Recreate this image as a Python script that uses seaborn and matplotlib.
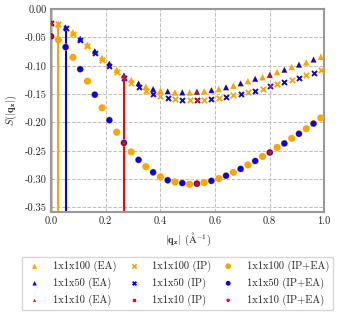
import numpy as np
import pandas as pd
import seaborn as sns
import matplotlib
matplotlib.use("Agg")
import matplotlib.pyplot as plt

# q grid: q_n = n * dq, dq = 2*pi/L for each supercell
n_100 = np.arange(38)
n_50 = np.arange(0, 38, 2)
n_10 = np.array([0, 10, 20, 30])
dq_100 = 0.0267

# 1x1x100 values, index n = 0..37
ea_100 = [-0.024, -0.026, -0.032, -0.041, -0.052, -0.063, -0.074, -0.086, -0.096, -0.107,
          -0.117, -0.125, -0.131, -0.137, -0.141, -0.144, -0.145, -0.147, -0.147, -0.147,
          -0.146, -0.145, -0.143, -0.141, -0.138, -0.135, -0.131, -0.127, -0.123, -0.120,
          -0.116, -0.111, -0.107, -0.102, -0.098, -0.094, -0.089, -0.084]
ip_100 = [-0.024, -0.027, -0.033, -0.043, -0.054, -0.065, -0.077, -0.089, -0.100, -0.111,
          -0.122, -0.130, -0.137, -0.144, -0.149, -0.153, -0.156, -0.159, -0.160, -0.161,
          -0.161, -0.160, -0.159, -0.157, -0.155, -0.152, -0.150, -0.147, -0.144, -0.141,
          -0.136, -0.132, -0.129, -0.125, -0.121, -0.117, -0.112, -0.108]
ipea_100 = [-0.048, -0.054, -0.067, -0.085, -0.106, -0.127, -0.151, -0.174, -0.196, -0.217,
            -0.236, -0.252, -0.266, -0.278, -0.288, -0.296, -0.302, -0.305, -0.307, -0.309,
            -0.308, -0.306, -0.303, -0.299, -0.294, -0.288, -0.282, -0.275, -0.268, -0.260,
            -0.253, -0.244, -0.237, -0.228, -0.220, -0.211, -0.202, -0.192]

# 1x1x50 values, n = 0, 2, ..., 36
ea_50 = [-0.024, -0.032, -0.052, -0.074, -0.096, -0.117, -0.131, -0.141, -0.145, -0.147,
         -0.146, -0.143, -0.138, -0.131, -0.123, -0.116, -0.107, -0.098, -0.089]
ip_50 = [-0.024, -0.033, -0.054, -0.077, -0.100, -0.122, -0.137, -0.149, -0.156, -0.160,
         -0.161, -0.159, -0.155, -0.150, -0.144, -0.136, -0.129, -0.121, -0.112]
ipea_50 = [-0.048, -0.067, -0.106, -0.151, -0.196, -0.236, -0.266, -0.288, -0.302, -0.307,
           -0.308, -0.303, -0.294, -0.282, -0.268, -0.253, -0.237, -0.220, -0.202]

# 1x1x10 values, n = 0, 10, 20, 30
ea_10 = [-0.024, -0.117, -0.146, -0.116]
ip_10 = [-0.024, -0.122, -0.161, -0.136]
ipea_10 = [-0.048, -0.236, -0.308, -0.253]

cells = ["1x1x100", "1x1x50", "1x1x10"]
colors = ["orange", "blue", "red"]
sizes = [22, 16, 8]

sns.set_style("white")
plt.rcParams.update({
    "font.family": "serif",
    "font.serif": ["cmr10"],
    "mathtext.fontset": "cm",
    "axes.formatter.use_mathtext": True,
    "font.size": 7.5,
})

fig = plt.figure(figsize=(3.38, 3.15), dpi=100)
ax = fig.add_axes([0.151, 0.327, 0.808, 0.644])

ymin = -0.358
data = [
    (n_100 * dq_100, ea_100, ip_100, ipea_100),
    (n_50 * dq_100, ea_50, ip_50, ipea_50),
    (n_10 * dq_100, ea_10, ip_10, ipea_10),
]

# smallest nonzero q of each cell
for (q, ea, ip, ipea), c in zip(data, colors):
    ax.vlines(q[1], ymin, ea[1], color=c, lw=1.5, zorder=2)

for (q, ea, ip, ipea), name, c, s in zip(data, cells, colors, sizes):
    sns.scatterplot(x=q, y=ea, marker="^", s=s, color=c, edgecolor="none",
                    label=f"{name} (EA)", ax=ax, zorder=3)
    sns.scatterplot(x=q, y=ip, marker="x", s=s * 0.7, color=c, linewidth=1.3,
                    label=f"{name} (IP)", ax=ax, zorder=3)
    sns.scatterplot(x=q, y=ipea, marker="o", s=s * 1.2, color=c, edgecolor="none",
                    label=f"{name} (IP+EA)", ax=ax, zorder=3)

h, l = ax.get_legend_handles_labels()
ax.get_legend().remove()
lookup = dict(zip(l, h))
order = [f"{c} ({t})" for t in ["EA", "IP", "IP+EA"] for c in cells]
fig.legend([lookup[o] for o in order], order, loc="center",
           bbox_to_anchor=(0.526, 0.1), ncol=3, fancybox=False,
           edgecolor="0.8", fontsize=7.5, handletextpad=1.0, columnspacing=0.8,
           handlelength=1.6, labelspacing=0.55, markerscale=0.8)

ax.axvline(0, color="k", lw=1, zorder=2)
ax.set_xlim(0, 1)
ax.set_ylim(ymin, 0)
ax.set_xticks([0.0, 0.2, 0.4, 0.6, 0.8, 1.0])
ax.set_yticks([0.0, -0.05, -0.10, -0.15, -0.20, -0.25, -0.30, -0.35])
ax.yaxis.set_major_formatter(matplotlib.ticker.FormatStrFormatter("%.2f"))
ax.xaxis.set_major_formatter(matplotlib.ticker.FormatStrFormatter("%.1f"))
ax.grid(True, ls="--", color="0.75", lw=0.7)
ax.set_axisbelow(True)
for sp in ax.spines.values():
    sp.set_color("0.6")
    sp.set_linewidth(1.5)
ax.tick_params(length=0, pad=3, labelsize=7.5)
ax.set_xlabel(r"$|\mathbf{q_z}|$ $(\mathrm{\AA}^{-1})$", fontsize=7.5)
ax.set_ylabel(r"$S(|\mathbf{q_z}|)$", fontsize=7.5)

fig.savefig("out.png", dpi=100)
